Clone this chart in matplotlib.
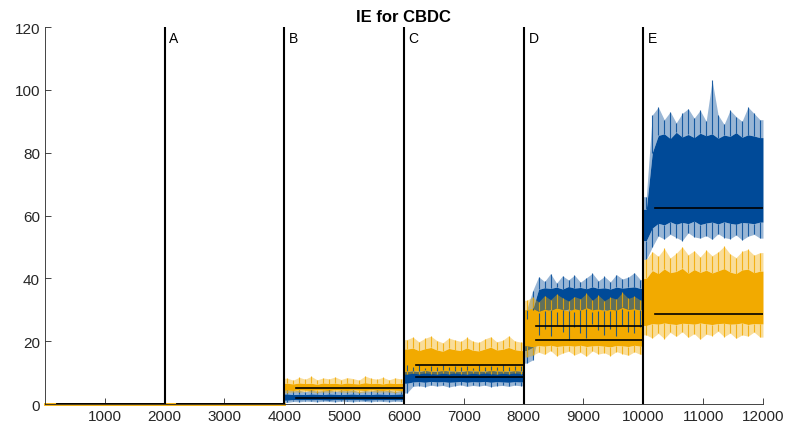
import numpy as np
import matplotlib
matplotlib.use("Agg")
import matplotlib.pyplot as plt

plt.rcParams['font.family'] = ['Liberation Sans', 'DejaVu Sans']

# --- data (100-sample bins, 4000..12000) ---
bin_start = 4000
bin_width = 100

# blue series: spike tops, solid top, solid bottom, dips
blue_peak = [4.6, 4.2, 4.4, 3.9, 4.5, 4.1, 4.3, 4.6, 4.0, 4.4, 4.2, 4.5, 3.9, 4.3, 4.1, 4.6, 4.2, 4.4, 4.0, 4.3,
             12.3, 11.8, 12.4, 11.6, 12.0, 11.9, 12.5, 11.7, 12.2, 11.8, 12.1, 11.6, 12.4, 11.9, 12.0, 11.7, 12.3, 11.8, 12.1, 12.0,
             30.0, 36.0, 40.5, 39.0, 41.5, 38.5, 40.8, 39.5, 41.0, 38.8, 40.2, 41.6, 39.2, 40.6, 38.9, 41.2, 39.8, 40.4, 41.8, 39.6,
             66.0, 92.0, 94.5, 90.5, 93.0, 89.5, 92.5, 94.0, 91.0, 93.5, 90.0, 103.0, 92.0, 89.0, 93.5, 91.5, 90.0, 94.5, 92.5, 90.5]
blue_top = [3.2, 3.0, 3.1, 3.0, 3.2, 3.1, 3.0, 3.2, 3.1, 3.0, 3.1, 3.2, 3.0, 3.1, 3.0, 3.2, 3.1, 3.0, 3.1, 3.2,
            10.4, 10.6, 10.3, 10.7, 10.5, 10.4, 10.8, 10.5, 10.6, 10.3, 10.7, 10.5, 10.6, 10.4, 10.8, 10.5, 10.6, 10.4, 10.7, 10.5,
            27.0, 30.0, 36.5, 37.0, 36.8, 37.2, 36.6, 37.4, 36.9, 37.1, 36.7, 37.3, 36.8, 37.0, 36.6, 37.2, 36.9, 37.1, 37.3, 36.8,
            62.0, 80.0, 85.5, 86.0, 84.5, 86.5, 85.0, 85.8, 84.8, 86.2, 85.4, 86.0, 84.6, 85.6, 85.2, 86.4, 84.9, 85.7, 85.3, 84.8]
blue_bot = [1.2, 1.4, 1.3, 1.4, 1.3, 1.4, 1.3, 1.2, 1.4, 1.3, 1.4, 1.3, 1.4, 1.2, 1.3, 1.4, 1.3, 1.4, 1.3, 1.4,
            6.6, 7.0, 7.1, 6.9, 7.2, 7.0, 7.1, 6.9, 7.0, 7.2, 6.9, 7.1, 7.0, 7.2, 6.9, 7.1, 7.0, 6.9, 7.1, 7.0,
            17.0, 18.0, 29.0, 29.5, 30.0, 29.2, 29.8, 30.2, 29.4, 29.9, 30.1, 29.3, 29.7, 30.0, 29.5, 29.8, 30.2, 29.6, 29.9, 30.0,
            52.0, 56.0, 57.5, 57.0, 58.0, 57.2, 57.8, 57.4, 58.2, 57.1, 57.6, 57.9, 57.3, 58.0, 57.5, 57.2, 57.8, 57.6, 57.4, 57.9]
blue_dip = [0.5, 0.8, 0.7, 0.9, 0.8, 0.7, 0.9, 0.8, 0.7, 0.9, 0.8, 0.7, 0.9, 0.8, 0.7, 0.9, 0.8, 0.7, 0.9, 0.8,
            3.5, 5.6, 5.8, 5.5, 6.0, 5.7, 5.9, 5.4, 5.8, 6.1, 5.6, 5.9, 5.7, 6.0, 5.5, 5.8, 5.9, 5.6, 6.0, 5.8,
            13.0, 14.0, 22.0, 24.0, 21.5, 25.0, 23.0, 20.5, 24.5, 22.5, 21.0, 25.5, 23.5, 22.0, 24.0, 21.5, 25.0, 23.0, 22.5, 24.5,
            46.0, 50.0, 53.5, 52.5, 54.0, 53.0, 52.0, 54.5, 53.2, 52.8, 53.6, 52.4, 54.2, 53.0, 52.6, 53.8, 52.2, 53.4, 54.0, 52.8]

# orange series
orange_peak = [8.2, 7.6, 8.5, 7.9, 8.8, 7.7, 8.3, 8.0, 8.6, 7.8, 8.4, 8.1, 7.6, 8.9, 8.2, 7.9, 8.5, 7.7, 8.3, 8.0,
               20.5, 21.3, 19.8, 20.9, 21.6, 20.2, 19.5, 21.0, 20.4, 19.9, 21.2, 20.0, 19.6, 20.7, 21.4, 19.8, 20.3, 21.7, 20.1, 19.7,
               33.0, 34.0, 32.5, 34.5, 33.2, 35.0, 33.8, 32.8, 34.2, 33.5, 35.2, 33.0, 34.6, 32.9, 34.0, 33.4, 35.5, 33.6, 34.3, 33.1,
               46.0, 48.5, 47.0, 49.5, 46.5, 48.0, 50.0, 47.5, 48.8, 46.8, 49.0, 47.2, 48.4, 50.2, 47.8, 46.6, 48.6, 49.2, 47.4, 48.2]
orange_top = [6.6, 6.4, 6.7, 6.5, 6.6, 6.3, 6.7, 6.5, 6.6, 6.4, 6.7, 6.5, 6.4, 6.8, 6.5, 6.6, 6.4, 6.7, 6.5, 6.6,
              17.5, 17.8, 17.0, 17.6, 18.0, 17.2, 16.8, 17.7, 17.3, 17.0, 17.9, 17.1, 16.9, 17.5, 18.1, 17.2, 17.4, 18.0, 17.3, 17.0,
              30.0, 30.5, 29.5, 30.2, 29.8, 30.6, 30.1, 29.6, 30.4, 29.9, 30.7, 30.0, 30.3, 29.7, 30.2, 29.9, 30.8, 30.1, 30.4, 29.8,
              40.0, 42.5, 41.5, 43.0, 41.8, 42.2, 43.2, 41.6, 42.8, 41.9, 42.6, 41.7, 42.4, 43.1, 42.0, 41.5, 42.7, 42.9, 41.8, 42.3]
orange_bot = [4.4, 4.3, 4.5, 4.4, 4.3, 4.5, 4.4, 4.3, 4.5, 4.4, 4.3, 4.5, 4.4, 4.3, 4.5, 4.4, 4.3, 4.5, 4.4, 4.3,
              10.4, 10.6, 10.5, 10.7, 10.4, 10.6, 10.5, 10.7, 10.4, 10.6, 10.5, 10.7, 10.4, 10.6, 10.5, 10.7, 10.4, 10.6, 10.5, 10.6,
              18.5, 18.2, 18.6, 18.4, 18.7, 18.3, 18.5, 18.6, 18.4, 18.7, 18.3, 18.5, 18.6, 18.4, 18.2, 18.6, 18.5, 18.3, 18.7, 18.4,
              25.0, 25.6, 25.4, 25.8, 25.5, 25.3, 25.7, 25.6, 25.4, 25.8, 25.5, 25.3, 25.6, 25.7, 25.4, 25.5, 25.8, 25.3, 25.6, 25.5]
orange_dip = [3.6, 3.9, 3.7, 4.0, 3.8, 3.6, 3.9, 3.7, 4.0, 3.8, 3.7, 3.9, 3.6, 3.8, 4.0, 3.7, 3.9, 3.8, 3.6, 3.9,
              9.5, 9.8, 9.6, 9.9, 9.7, 9.5, 9.8, 9.6, 9.9, 9.7, 9.5, 9.8, 9.6, 9.9, 9.7, 9.5, 9.8, 9.6, 9.9, 9.7,
              15.0, 15.5, 16.5, 15.8, 17.0, 15.3, 16.2, 16.8, 15.6, 16.4, 15.2, 16.9, 15.9, 16.3, 15.4, 16.7, 16.0, 15.5, 16.6, 15.8,
              22.0, 21.0, 22.5, 20.8, 22.8, 21.5, 23.0, 21.2, 22.4, 20.6, 22.2, 21.8, 23.2, 21.4, 22.6, 20.9, 22.0, 21.6, 22.9, 21.3]

# segment boundaries, labels and segment means (means start 200 samples in)
seg_edges = [0, 2000, 4000, 6000, 8000, 10000, 12000]
seg_labels = ['A', 'B', 'C', 'D', 'E']
blue_mean = [0, 0, 2.0, 8.6, 24.8, 62.3]
orange_mean = [0, 0, 5.1, 12.4, 20.5, 28.6]

BLUE = '#004A98'
ORANGE = '#F2AA00'

fig = plt.figure(figsize=(7.87, 4.31), dpi=100)
ax = fig.add_axes([0.057, 0.0603, 0.9125, 0.8747])

xc = bin_start + bin_width * (np.arange(len(blue_peak)) + 0.5)


def pad(v):
    return np.concatenate([[v[0]], v, [v[-1]]])


def draw_series(peak, top, bot, dip, color):
    peak, top, bot, dip = map(np.asarray, (peak, top, bot, dip))
    for s in range(4):
        sl = slice(s * 20, (s + 1) * 20)
        x0, x1 = seg_edges[s + 2], seg_edges[s + 3]
        xs = np.concatenate([[x0], xc[sl], [x1]])
        ax.fill_between(xs, pad(top[sl]), pad(peak[sl]), color=color, alpha=0.4, lw=0)
        ax.fill_between(xs, pad(dip[sl]), pad(bot[sl]), color=color, alpha=0.4, lw=0)
        ax.fill_between(xs, pad(bot[sl]), pad(top[sl]), color=color, lw=0)
        ax.vlines(xc[sl], top[sl], peak[sl], color=color, lw=0.8, alpha=0.85)
        ax.vlines(xc[sl], dip[sl], bot[sl], color=color, lw=0.8, alpha=0.85)


def draw_means(means):
    for i, m in enumerate(means):
        ax.plot([seg_edges[i] + 200, seg_edges[i + 1]], [m, m], color='black', lw=1.2)


# flat orange trace in the first two segments
ax.plot([seg_edges[0], seg_edges[2]], [0, 0], color=ORANGE, lw=2, clip_on=False)

draw_series(blue_peak, blue_top, blue_bot, blue_dip, BLUE)
draw_means(blue_mean)
draw_series(orange_peak, orange_top, orange_bot, orange_dip, ORANGE)
draw_means(orange_mean)

# segment dividers and labels
for x, lab in zip(seg_edges[1:-1], seg_labels):
    ax.plot([x, x], [0, 120], color='black', lw=1.5)
    ax.text(x + 80, 116.5, lab, fontsize=10, ha='left', va='center')

ax.set_xlim(0, 12000)
ax.set_ylim(0, 120)
ax.set_xticks(range(1000, 12001, 1000))
ax.set_yticks(range(0, 121, 20))
ax.tick_params(direction='in', length=4, width=0.6, colors='#262626', labelsize=11)
for side in ['top', 'right']:
    ax.spines[side].set_visible(False)
for side in ['left', 'bottom']:
    ax.spines[side].set_color('#262626')
    ax.spines[side].set_linewidth(0.6)
ax.set_title('IE for CBDC', fontsize=12, fontweight='bold', pad=4)

fig.savefig('out.png', dpi=100)
